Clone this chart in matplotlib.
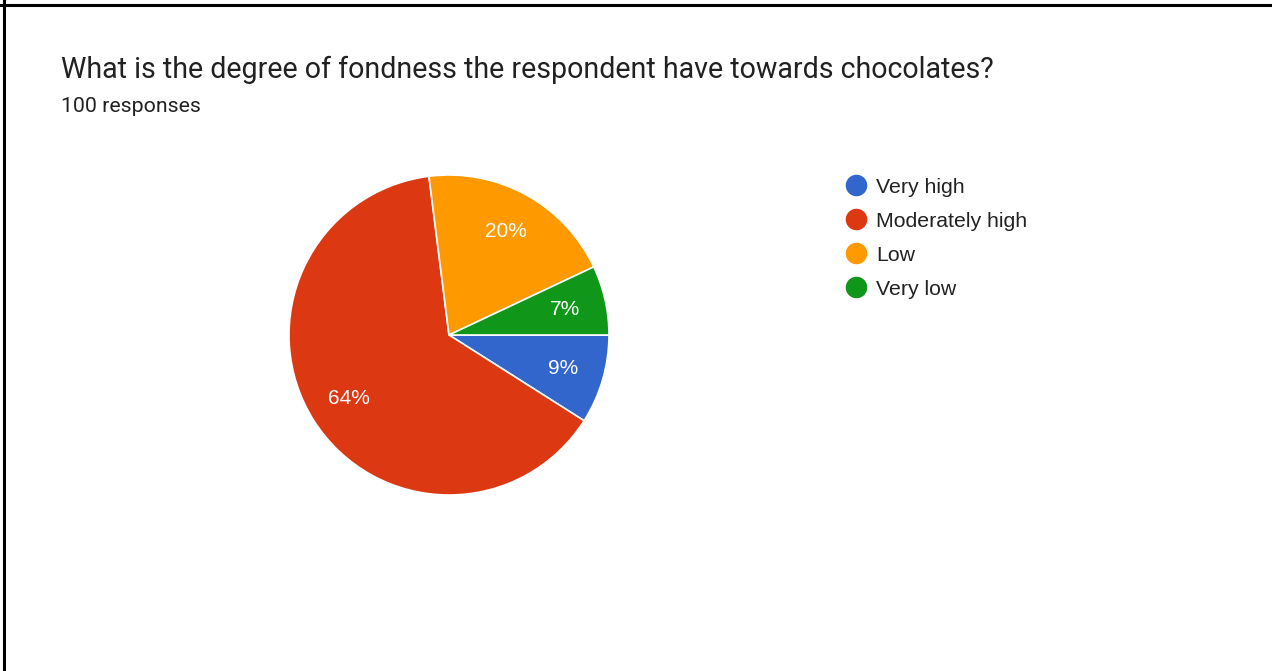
import matplotlib
matplotlib.use("Agg")
import matplotlib.pyplot as plt
from matplotlib.lines import Line2D

# Survey answers (share of 100 responses)
categories = ["Very high", "Moderately high", "Low", "Very low"]
shares = [9, 64, 20, 7]
colors = ["#3366CC", "#DC3912", "#FF9900", "#109618"]

title = "What is the degree of fondness the respondent have towards chocolates?"
subtitle = "100 responses"

plt.rcParams["font.family"] = ["Roboto", "DejaVu Sans"]
chart_font = ["Liberation Sans", "DejaVu Sans"]

W, H = 1272, 671
fig = plt.figure(figsize=(W / 100, H / 100), dpi=100)
fig.patch.set_facecolor("white")

# frame lines on top and left only
fig.add_artist(Line2D([0, 1], [1 - 4.5 / H, 1 - 4.5 / H], color="black", lw=2.2,
                      transform=fig.transFigure))
fig.add_artist(Line2D([4 / W, 4 / W], [0, 1], color="black", lw=2.2,
                      transform=fig.transFigure))

fig.text(61 / W, 1 - 78 / H, title, fontsize=20.6, color="#212121", va="baseline")
fig.text(61 / W, 1 - 112 / H, subtitle, fontsize=15.3, color="#212121", va="baseline")

# pie centred at (449, 335) px with radius 160 px
cx, cy, r = 449, 335, 160
ax = fig.add_axes([(cx - r) / W, (H - cy - r) / H, 2 * r / W, 2 * r / H])
wedges, texts, autotexts = ax.pie(
    shares,
    colors=colors,
    startangle=0,
    counterclock=False,
    autopct=lambda p: f"{p:.0f}%",
    pctdistance=0.74,
    wedgeprops=dict(edgecolor="white", linewidth=1.2),
    textprops=dict(color="white", fontsize=15, family=chart_font),
)
ax.set_xlim(-1, 1)
ax.set_ylim(-1, 1)
ax.set_aspect("equal")
ax.axis("off")

handles = [
    Line2D([], [], marker="o", linestyle="none", markersize=14.5,
           markerfacecolor=c, markeredgecolor=c)
    for c in colors
]
fig.legend(
    handles, categories,
    loc="upper left",
    bbox_to_anchor=(835 / W, 1 - 167 / H),
    frameon=False,
    prop=dict(family=chart_font, size=15.3),
    labelcolor="#222222",
    handlelength=1.0,
    handletextpad=0.45,
    labelspacing=0.71,
    borderpad=0,
)

plt.savefig("out.png", dpi=100, facecolor="white")
